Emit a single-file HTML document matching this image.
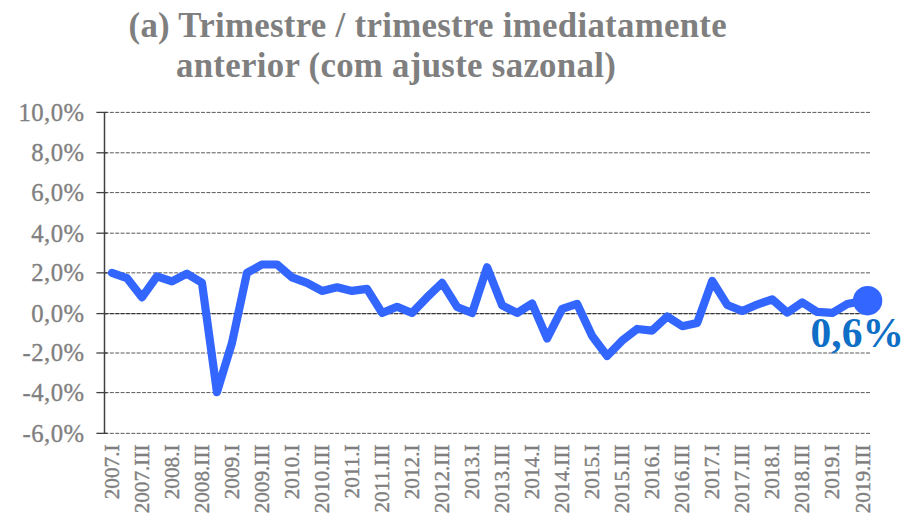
<!DOCTYPE html>
<html><head><meta charset="utf-8">
<style>
html,body{margin:0;padding:0;background:#fff;}
body{width:901px;height:532px;overflow:hidden;position:relative;}
svg{position:absolute;left:0;top:0;}
.t{font-family:"Liberation Serif",serif;font-weight:bold;font-size:34.8px;letter-spacing:0.3px;fill:#7f7f7f;}
.yl{font-family:"Liberation Serif",serif;font-size:24.7px;letter-spacing:0.45px;fill:#7f7f7f;stroke:#7f7f7f;stroke-width:0.35px;}
.xl{font-family:"Liberation Serif",serif;font-size:21.2px;fill:#7f7f7f;stroke:#7f7f7f;stroke-width:0.4px;}
.v{font-family:"Liberation Serif",serif;font-weight:bold;font-size:41.5px;fill:#0f6fc6;}
</style></head>
<body>
<svg width="901" height="532" viewBox="0 0 901 532">
<rect x="0" y="0" width="901" height="532" fill="#fff"/>
<g class="t">
<text x="128.5" y="36.6">(a) Trimestre / trimestre imediatamente</text>
<text x="176" y="77.3">anterior (com ajuste sazonal)</text>
</g>
<g>
<line x1="104.5" y1="112.40" x2="870.0" y2="112.40" stroke="#505050" stroke-width="0.95" stroke-dasharray="3.95 1.413"/>
<line x1="96.4" y1="112.40" x2="107.5" y2="112.40" stroke="#404040" stroke-width="1.3"/>
<line x1="104.5" y1="152.80" x2="870.0" y2="152.80" stroke="#505050" stroke-width="0.95" stroke-dasharray="3.95 1.413"/>
<line x1="96.4" y1="152.80" x2="107.5" y2="152.80" stroke="#404040" stroke-width="1.3"/>
<line x1="104.5" y1="192.60" x2="870.0" y2="192.60" stroke="#505050" stroke-width="0.95" stroke-dasharray="3.95 1.413"/>
<line x1="96.4" y1="192.60" x2="107.5" y2="192.60" stroke="#404040" stroke-width="1.3"/>
<line x1="104.5" y1="233.20" x2="870.0" y2="233.20" stroke="#505050" stroke-width="0.95" stroke-dasharray="3.95 1.413"/>
<line x1="96.4" y1="233.20" x2="107.5" y2="233.20" stroke="#404040" stroke-width="1.3"/>
<line x1="104.5" y1="272.85" x2="870.0" y2="272.85" stroke="#505050" stroke-width="0.95" stroke-dasharray="3.95 1.413"/>
<line x1="96.4" y1="272.85" x2="107.5" y2="272.85" stroke="#404040" stroke-width="1.3"/>
<line x1="104.5" y1="313.60" x2="870.0" y2="313.60" stroke="#9a9a9a" stroke-width="1"/>
<line x1="104.5" y1="313.60" x2="870.0" y2="313.60" stroke="#383838" stroke-width="1.1" stroke-dasharray="3.95 1.413"/>
<line x1="96.4" y1="313.60" x2="107.5" y2="313.60" stroke="#404040" stroke-width="1.3"/>
<line x1="104.5" y1="353.00" x2="870.0" y2="353.00" stroke="#505050" stroke-width="0.95" stroke-dasharray="3.95 1.413"/>
<line x1="96.4" y1="353.00" x2="107.5" y2="353.00" stroke="#404040" stroke-width="1.3"/>
<line x1="104.5" y1="392.60" x2="870.0" y2="392.60" stroke="#505050" stroke-width="0.95" stroke-dasharray="3.95 1.413"/>
<line x1="96.4" y1="392.60" x2="107.5" y2="392.60" stroke="#404040" stroke-width="1.3"/>
<line x1="104.5" y1="433.35" x2="870.0" y2="433.35" stroke="#505050" stroke-width="0.95" stroke-dasharray="3.95 1.413"/>
<line x1="96.4" y1="433.35" x2="107.5" y2="433.35" stroke="#404040" stroke-width="1.3"/>
<line x1="104.5" y1="112.05" x2="104.5" y2="433.73" stroke="#404040" stroke-width="1.5"/>
</g>
<g class="yl">
<text x="84.5" y="120.80" text-anchor="end">10,0%</text>
<text x="84.5" y="161.20" text-anchor="end">8,0%</text>
<text x="84.5" y="201.00" text-anchor="end">6,0%</text>
<text x="84.5" y="241.60" text-anchor="end">4,0%</text>
<text x="84.5" y="281.25" text-anchor="end">2,0%</text>
<text x="84.5" y="322.00" text-anchor="end">0,0%</text>
<text x="84.5" y="361.40" text-anchor="end">-2,0%</text>
<text x="84.5" y="401.00" text-anchor="end">-4,0%</text>
<text x="84.5" y="441.75" text-anchor="end">-6,0%</text>
</g>
<g class="xl">
<text transform="translate(119.10,444.5) rotate(-90)" text-anchor="end">2007.I</text>
<text transform="translate(149.12,444.5) rotate(-90)" text-anchor="end">2007.III</text>
<text transform="translate(179.13,444.5) rotate(-90)" text-anchor="end">2008.I</text>
<text transform="translate(209.15,444.5) rotate(-90)" text-anchor="end">2008.III</text>
<text transform="translate(239.16,444.5) rotate(-90)" text-anchor="end">2009.I</text>
<text transform="translate(269.18,444.5) rotate(-90)" text-anchor="end">2009.III</text>
<text transform="translate(299.20,444.5) rotate(-90)" text-anchor="end">2010.I</text>
<text transform="translate(329.21,444.5) rotate(-90)" text-anchor="end">2010.III</text>
<text transform="translate(359.23,444.5) rotate(-90)" text-anchor="end">2011.I</text>
<text transform="translate(389.24,444.5) rotate(-90)" text-anchor="end">2011.III</text>
<text transform="translate(419.26,444.5) rotate(-90)" text-anchor="end">2012.I</text>
<text transform="translate(449.28,444.5) rotate(-90)" text-anchor="end">2012.III</text>
<text transform="translate(479.29,444.5) rotate(-90)" text-anchor="end">2013.I</text>
<text transform="translate(509.31,444.5) rotate(-90)" text-anchor="end">2013.III</text>
<text transform="translate(539.32,444.5) rotate(-90)" text-anchor="end">2014.I</text>
<text transform="translate(569.34,444.5) rotate(-90)" text-anchor="end">2014.III</text>
<text transform="translate(599.36,444.5) rotate(-90)" text-anchor="end">2015.I</text>
<text transform="translate(629.37,444.5) rotate(-90)" text-anchor="end">2015.III</text>
<text transform="translate(659.39,444.5) rotate(-90)" text-anchor="end">2016.I</text>
<text transform="translate(689.40,444.5) rotate(-90)" text-anchor="end">2016.III</text>
<text transform="translate(719.42,444.5) rotate(-90)" text-anchor="end">2017.I</text>
<text transform="translate(749.44,444.5) rotate(-90)" text-anchor="end">2017.III</text>
<text transform="translate(779.45,444.5) rotate(-90)" text-anchor="end">2018.I</text>
<text transform="translate(809.47,444.5) rotate(-90)" text-anchor="end">2018.III</text>
<text transform="translate(839.48,444.5) rotate(-90)" text-anchor="end">2019.I</text>
<text transform="translate(869.50,444.5) rotate(-90)" text-anchor="end">2019.III</text>
</g>
<polyline points="111.90,272.89 126.91,278.10 141.92,297.33 156.92,276.30 171.93,281.30 186.94,273.69 201.95,282.70 216.96,392.07 231.96,343.00 246.97,272.89 261.98,264.48 276.99,264.48 292.00,277.30 307.00,282.90 322.01,290.92 337.02,287.31 352.03,290.92 367.04,288.91 382.04,312.95 397.05,306.74 412.06,312.95 427.07,297.33 442.08,282.90 457.08,306.94 472.09,312.95 487.10,267.28 502.11,305.34 517.12,312.95 532.12,303.54 547.13,338.39 562.14,308.94 577.15,303.94 592.16,335.98 607.16,356.01 622.17,340.59 637.18,328.97 652.19,330.58 667.20,316.56 682.20,326.17 697.21,322.97 712.22,280.90 727.23,304.94 742.24,310.95 757.24,304.54 772.25,299.33 787.26,312.55 802.27,302.33 817.28,311.95 832.28,312.95 847.29,303.94 862.30,300.93" fill="none" stroke="#3366ff" stroke-width="8.2" stroke-linejoin="round" stroke-linecap="round"/>
<circle cx="867.6" cy="300.7" r="14.7" fill="#3366ff"/>
<text class="v" x="810.5" y="347">0,6%</text>
</svg>
</body></html>
